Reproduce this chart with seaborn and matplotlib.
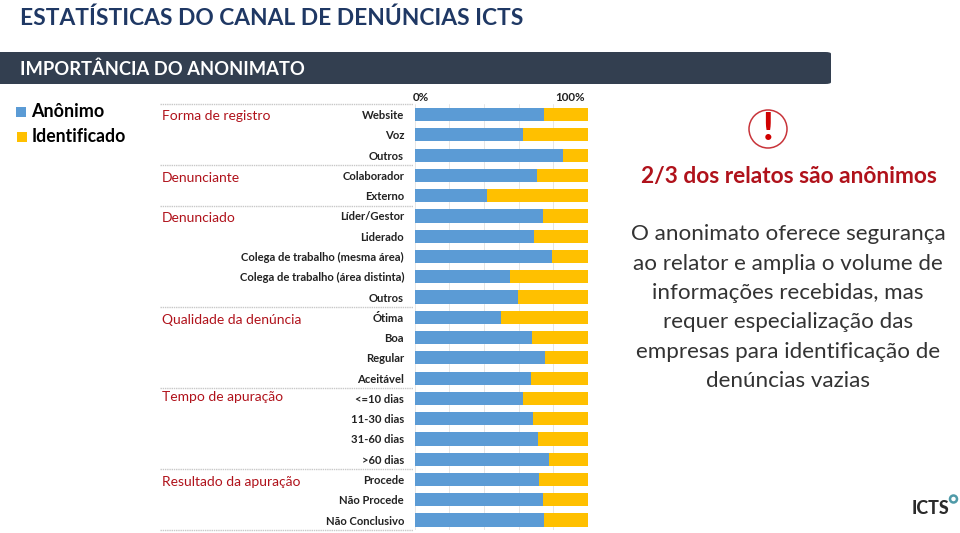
import matplotlib
matplotlib.use('Agg')
import matplotlib.pyplot as plt
import matplotlib.transforms as mtrans
from matplotlib.lines import Line2D
from matplotlib.patches import Circle, Rectangle, FancyBboxPatch
import pandas as pd
import seaborn as sns

row_labels = ['Website', 'Voz', 'Outros', 'Colaborador', 'Externo', 'Líder/Gestor', 'Liderado',
              'Colega de trabalho (mesma área)', 'Colega de trabalho (área distinta)', 'Outros',
              'Ótima', 'Boa', 'Regular', 'Aceitável', '<=10 dias', '11-30 dias', '31-60 dias',
              '>60 dias', 'Procede', 'Não Procede', 'Não Conclusivo']
anonimo = [74.8, 62.4, 85.7, 70.7, 41.8, 74.2, 69.0, 79.4, 55.3, 59.9, 49.9,
           67.6, 75.3, 67.1, 62.4, 68.4, 71.3, 77.3, 71.9, 73.8, 74.8]
identificado = [25.2, 37.6, 14.3, 29.3, 58.2, 25.8, 31.0, 20.6, 44.7, 40.1, 50.1,
                32.4, 24.7, 32.9, 37.6, 31.6, 28.7, 22.7, 28.1, 26.2, 25.2]
group_names = ['Forma de registro', 'Denunciante', 'Denunciado', 'Qualidade da denúncia',
               'Tempo de apuração', 'Resultado da apuração']
group_starts = [0, 3, 5, 10, 14, 18]
x_ticks = [0, 20, 40, 60, 80, 100]
x_labels = ['0%', '', '', '', '', '100%']
corpo = ['O anonimato oferece segurança', 'ao relator e amplia o volume de',
         'informações recebidas, mas', 'requer especialização das',
         'empresas para identificação de', 'denúncias vazias']

AZUL = '#5B9BD5'
OURO = '#FFC000'
VERMELHO = '#B0121B'
W, H = 960, 533

sns.set_theme(style='white')
plt.rcParams['font.family'] = ['Lato', 'DejaVu Sans']

df = pd.DataFrame({'linha': range(len(row_labels)), 'anonimo': anonimo, 'identificado': identificado})
df['total'] = df['anonimo'] + df['identificado']

fig = plt.figure(figsize=(9.6, 5.33), dpi=100)
fig.patch.set_facecolor('white')


def fx(x):
    return x / W


def fy(y):
    return 1 - y / H


# axes placed in pixel terms
ax = fig.add_axes([fx(414.5), fy(530.2), (588 - 414.5) / W, (530.2 - 104.4) / H])
sns.barplot(data=df, x='total', y='linha', orient='y', color=OURO, width=0.65, saturation=1,
            linewidth=0, edgecolor='none', ax=ax, zorder=2)
sns.barplot(data=df, x='anonimo', y='linha', orient='y', color=AZUL, width=0.65, saturation=1,
            linewidth=0, edgecolor='none', ax=ax, zorder=3)

ax.set_xlim(0, 100)
ax.set_ylim(len(row_labels) - 0.5, -0.5)
ax.set_xlabel('')
ax.set_ylabel('')
ax.xaxis.tick_top()
ax.set_xticks(x_ticks)
ax.set_xticklabels(x_labels, fontsize=8.4, fontweight='bold', color='#222222')
ax.set_yticks(range(len(row_labels)))
ax.set_yticklabels(row_labels, fontsize=8.1, fontweight='bold', color='#222222')
ax.tick_params(axis='y', length=0, pad=7.5)
ax.tick_params(axis='x', length=0, pad=1)
ax.grid(axis='x', color='#e6e6e6', linewidth=0.7)
ax.set_axisbelow(True)
for s in ax.spines.values():
    s.set_visible(False)

# 0% and 100% sit inside the plot width, not centred on their ticks
tick_labels = ax.get_xticklabels()
tick_labels[0].set_ha('left')
tick_labels[0].set_transform(tick_labels[0].get_transform()
                             + mtrans.ScaledTranslation(-2 / 100, 0, fig.dpi_scale_trans))
tick_labels[-1].set_ha('right')
tick_labels[-1].set_transform(tick_labels[-1].get_transform()
                              + mtrans.ScaledTranslation(-3 / 100, 0, fig.dpi_scale_trans))

# group separators follow the rows
trans = mtrans.blended_transform_factory(fig.transFigure, ax.transData)
for start in group_starts + [len(row_labels)]:
    fig.add_artist(Line2D([fx(160), fx(413)], [start - 0.5, start - 0.5], transform=trans,
                          color='#c8c8c8', lw=1, ls=(0, (1, 0.6))))
for nome, y in zip(group_names, [116, 178, 218, 319.5, 397, 481.5]):
    fig.text(fx(162), fy(y), nome, color=VERMELHO, fontsize=10, va='center', ha='left')

# header
fig.text(fx(20), fy(18), 'ESTATÍSTICAS DO CANAL DE DENÚNCIAS ICTS', color='#1F3864', fontsize=16.4,
         fontweight='bold', va='center', ha='left')
fig.add_artist(FancyBboxPatch((fx(-10), fy(84)), fx(841), 32 / H, boxstyle='round,pad=0,rounding_size=0.006',
                              transform=fig.transFigure, facecolor='#333F50', edgecolor='none',
                              mutation_aspect=H / W))
fig.text(fx(20), fy(69), 'IMPORTÂNCIA DO ANONIMATO', color='white', fontsize=13.2,
         fontweight='bold', va='center', ha='left')

# legend
fig.add_artist(Rectangle((fx(15.5), fy(117)), 10.5 / W, 10 / H, transform=fig.transFigure, facecolor=AZUL, edgecolor='none'))
fig.add_artist(Rectangle((fx(17), fy(141.5)), 10 / W, 10 / H, transform=fig.transFigure, facecolor=OURO, edgecolor='none'))
fig.text(fx(31), fy(111.5), 'Anônimo', color='black', fontsize=13, fontweight='bold', va='center')
fig.text(fx(32), fy(137), 'Identificado', color='black', fontsize=12.7, fontweight='bold', va='center')

# right panel
fig.add_artist(Circle((768, H - 129), 19, transform=None, facecolor='white', edgecolor='#C8343A', lw=1.1))
fig.text(fx(768), fy(129), '!', color='#D00000', fontsize=27, fontweight='black', va='center', ha='center')
fig.text(fx(788.5), fy(176.5), '2/3 dos relatos são anônimos', color=VERMELHO, fontsize=16.4,
         fontweight='bold', va='center', ha='center')
for i, linha in enumerate(corpo):
    fig.text(fx(788), fy(234.5 + i * 29.3), linha, color='#333333', fontsize=16.1,
             va='center', ha='center')

# logo
fig.text(fx(912), fy(508), 'ICTS', color='#2b2b2b', fontsize=12.8, fontweight='black', va='center', ha='left')
fig.add_artist(Circle((953.5, H - 499), 3.5, transform=None, facecolor='white', edgecolor='#4F9AA8', lw=1.8))

fig.savefig('out.png', dpi=100)
